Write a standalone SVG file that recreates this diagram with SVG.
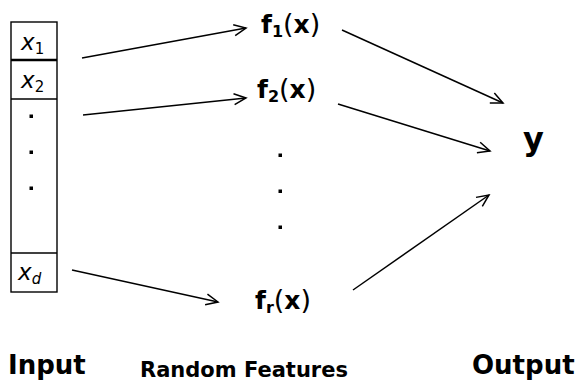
<svg xmlns="http://www.w3.org/2000/svg" width="581" height="381" viewBox="0 0 581 381">
  <style>
    .box { fill: #fff; stroke: #000; stroke-width: 1.4; }
    .var { font-family: "DejaVu Sans", "Liberation Sans", sans-serif; font-style: oblique; font-size: 23px; fill: #000; }
    .sub { font-size: 15px; }
    .feat { font-family: "DejaVu Sans", "Liberation Sans", sans-serif; font-weight: bold; font-size: 25px; fill: #000; }
    .fsub { font-size: 16px; }
    .paren { font-weight: normal; font-size: 27px; }
    .label { font-family: "DejaVu Sans", "Liberation Sans", sans-serif; font-weight: bold; fill: #000; }
    .edge { stroke: #000; stroke-width: 1.5; fill: none; marker-end: url(#arrow); }
    .dot { fill: #000; }
  </style>
  <defs>
    <marker id="arrow" markerUnits="userSpaceOnUse" viewBox="-14 -7 16 14" refX="0" refY="0" markerWidth="16" markerHeight="14" orient="auto">
      <path d="M -12 -5.5 L 0 0 L -12 5.5" fill="none" stroke="#000" stroke-width="1.5" stroke-linejoin="miter"/>
    </marker>
  </defs>

  <rect width="581" height="381" fill="#fff"/>

  <!-- input vector -->
  <g id="input">
    <rect class="box" x="11" y="22" width="46" height="270"/>
    <line x1="11" y1="60" x2="57" y2="60" stroke="#000" stroke-width="2.4"/>
    <line x1="11" y1="99" x2="57" y2="99" stroke="#000" stroke-width="1.4"/>
    <line x1="11" y1="253" x2="57" y2="253" stroke="#000" stroke-width="1.4"/>
    <text class="var" x="21" y="50">x<tspan class="sub" font-style="normal" dy="4">1</tspan></text>
    <text class="var" x="21" y="88">x<tspan class="sub" font-style="normal" dy="4">2</tspan></text>
    <rect class="dot" x="29.5" y="114.5" width="3.5" height="3.5"/>
    <rect class="dot" x="29.5" y="150.5" width="3.5" height="3.5"/>
    <rect class="dot" x="29.5" y="186.5" width="3.5" height="3.5"/>
    <text class="var" x="18" y="280">x<tspan class="sub" dy="4">d</tspan></text>
  </g>

  <!-- random features -->
  <g id="f1">
    <text class="feat" x="261" y="33">f<tspan class="fsub" dy="4">1</tspan><tspan class="paren" dy="-4">(</tspan>x<tspan class="paren">)</tspan></text>
  </g>
  <g id="f2">
    <text class="feat" x="257" y="98">f<tspan class="fsub" dy="4">2</tspan><tspan class="paren" dy="-4">(</tspan>x<tspan class="paren">)</tspan></text>
  </g>
  <g id="fdots">
    <rect class="dot" x="278.5" y="153.5" width="3.5" height="3.5"/>
    <rect class="dot" x="278.5" y="189.5" width="3.5" height="3.5"/>
    <rect class="dot" x="278.5" y="225.5" width="3.5" height="3.5"/>
  </g>
  <g id="fr">
    <text class="feat" x="255" y="309">f<tspan class="fsub" dy="4">r</tspan><tspan class="paren" dy="-4">(</tspan>x<tspan class="paren">)</tspan></text>
  </g>

  <!-- output -->
  <g id="y">
    <text class="label" x="523" y="150" font-size="32">y</text>
  </g>

  <!-- connectors -->
  <g id="edges">
    <line class="edge" x1="82" y1="58" x2="246" y2="28"/>
    <line class="edge" x1="83" y1="115" x2="246" y2="98"/>
    <line class="edge" x1="72" y1="270" x2="218" y2="302"/>
    <line class="edge" x1="342" y1="30" x2="503" y2="103"/>
    <line class="edge" x1="338" y1="104" x2="490" y2="151"/>
    <line class="edge" x1="353" y1="290" x2="489" y2="195"/>
  </g>

  <!-- column captions -->
  <g id="captions">
    <text class="label" x="8" y="374" font-size="26">Input</text>
    <text class="label" x="140" y="377" font-size="21">Random Features</text>
    <text class="label" x="472" y="374" font-size="26">Output</text>
  </g>
</svg>
